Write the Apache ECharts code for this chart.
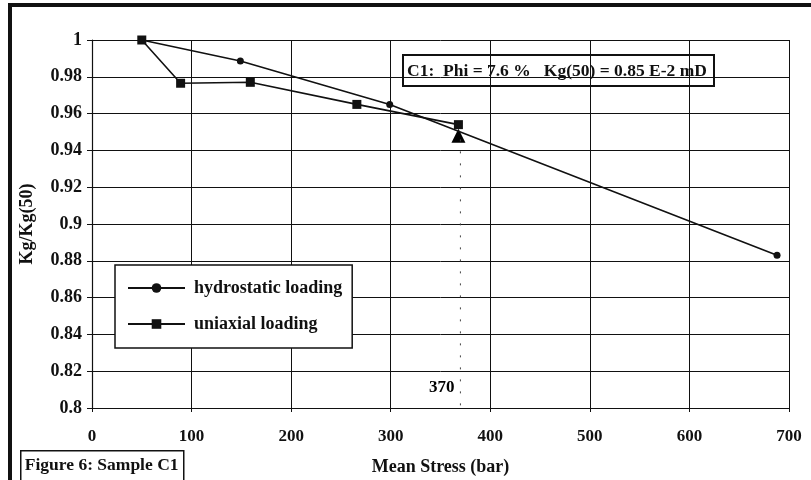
<!DOCTYPE html>
<html>
<head>
<meta charset="utf-8">
<script src="https://cdn.jsdelivr.net/npm/echarts@6/dist/echarts.min.js"></script>
<style>
  html, body { margin: 0; padding: 0; background: #fff; }
  #chart { width: 811px; height: 480px; }
</style>
</head>
<body>
<div id="chart"></div>
<script>
// 数据
var hydroStress = [50, 149, 299, 688]
var hydroKg = [1, 0.9886, 0.965, 0.883]
var uniStress = [50, 89, 159, 266, 368]
var uniKg = [1, 0.9765, 0.977, 0.965, 0.954]
var triangleStress = [368]
var triangleKg = [0.948]
var markStress = 370
var markLineKg = [0.946, 0.8]
var markLabelKg = 0.811
var seriesNames = ['hydrostatic loading', 'uniaxial loading']
var noteText = 'C1:  Phi = 7.6 %   Kg(50) = 0.85 E-2 mD'
var figureText = 'Figure 6: Sample C1'

var font = 'Liberation Serif'
var myCharts = echarts.init(document.getElementById('chart'))

var options = {
  backgroundColor: '#fff',
  animation: false,
  grid: { left: 92, right: 22, top: 40, bottom: 72, outerBoundsMode: 'none' },
  legend: {
    orient: 'vertical',
    left: 115,
    top: 265,
    width: 239,
    padding: [14, 10, 15, 12],
    itemWidth: 57,
    itemHeight: 12,
    itemGap: 18,
    borderColor: '#111',
    borderWidth: 1.5,
    backgroundColor: '#fff',
    data: seriesNames,
    textStyle: { fontFamily: font, fontWeight: 'bold', fontSize: 18, color: '#111', padding: [0, 0, 0, 4] }
  },
  xAxis: {
    type: 'value',
    min: 0,
    max: 700,
    interval: 100,
    name: 'Mean Stress (bar)',
    nameLocation: 'middle',
    nameGap: 50,
    nameTextStyle: { fontFamily: font, fontWeight: 'bold', fontSize: 18, color: '#111' },
    axisLine: { lineStyle: { color: '#111', width: 1.2 } },
    axisTick: { length: 4, lineStyle: { color: '#111' } },
    axisLabel: { margin: 20, fontFamily: font, fontWeight: 'bold', fontSize: 17, color: '#111' },
    splitLine: { show: true, lineStyle: { color: '#111', width: 1 } }
  },
  yAxis: {
    type: 'value',
    min: 0.8,
    max: 1,
    interval: 0.02,
    name: 'Kg/Kg(50)',
    nameLocation: 'middle',
    nameGap: 56,
    nameTextStyle: { fontFamily: font, fontWeight: 'bold', fontSize: 18, color: '#111' },
    axisLine: { show: true, lineStyle: { color: '#111', width: 1.2 } },
    axisTick: { show: true, length: 5, lineStyle: { color: '#111' } },
    axisLabel: {
      margin: 10,
      fontFamily: font,
      fontWeight: 'bold',
      fontSize: 18,
      color: '#111',
      formatter: function (v) { return String(parseFloat(v.toFixed(2))) }
    },
    splitLine: { show: true, lineStyle: { color: '#111', width: 1 } }
  },
  series: [
    {
      name: seriesNames[0],
      type: 'line',
      symbol: 'circle',
      symbolSize: 7,
      itemStyle: { color: '#111' },
      lineStyle: { color: '#111', width: 1.6 },
      data: hydroStress.map(function (x, i) { return [x, hydroKg[i]] })
    },
    {
      name: seriesNames[1],
      type: 'line',
      symbol: 'rect',
      symbolSize: 9,
      itemStyle: { color: '#111' },
      lineStyle: { color: '#111', width: 1.6 },
      data: uniStress.map(function (x, i) { return [x, uniKg[i]] })
    },
    {
      name: 'triangle',
      type: 'scatter',
      symbol: 'triangle',
      symbolSize: 14,
      itemStyle: { color: '#000', opacity: 1 },
      data: triangleStress.map(function (x, i) { return [x, triangleKg[i]] })
    },
    {
      name: 'mark370',
      type: 'line',
      symbol: 'none',
      lineStyle: { color: '#444', width: 1, type: [2, 10] },
      data: markLineKg.map(function (y) { return [markStress, y] })
    },
    {
      name: 'label370',
      type: 'scatter',
      symbolSize: 0,
      itemStyle: { opacity: 1 },
      label: {
        show: true,
        position: 'left',
        distance: 6,
        formatter: String(markStress),
        fontFamily: font,
        fontWeight: 'bold',
        fontSize: 17,
        color: '#000'
      },
      data: [[markStress, markLabelKg]]
    }
  ],
  graphic: [
    {
      type: 'rect',
      shape: { x: 10, y: 5, width: 830, height: 500 },
      style: { fill: null, stroke: '#111', lineWidth: 4 },
      silent: true,
      z: 100
    },
    {
      type: 'group',
      left: 402,
      top: 54,
      z: 100,
      children: [
        { type: 'rect', shape: { x: 0, y: 0, width: 311, height: 31 }, style: { fill: '#fff', stroke: '#111', lineWidth: 2 } },
        { type: 'text', x: 4, y: 7, style: { text: noteText, fontFamily: font, fontWeight: 'bold', fontSize: 17.5, fill: '#111' } }
      ]
    },
    {
      type: 'group',
      left: 20,
      top: 450,
      z: 100,
      children: [
        { type: 'rect', shape: { x: 0, y: 0, width: 163, height: 40 }, style: { fill: '#fff', stroke: '#111', lineWidth: 1.5 } },
        { type: 'text', x: 4, y: 6, style: { text: figureText, fontFamily: font, fontWeight: 'bold', fontSize: 17.5, fill: '#111' } }
      ]
    }
  ]
}
myCharts.setOption(options)
</script>
</body>
</html>
